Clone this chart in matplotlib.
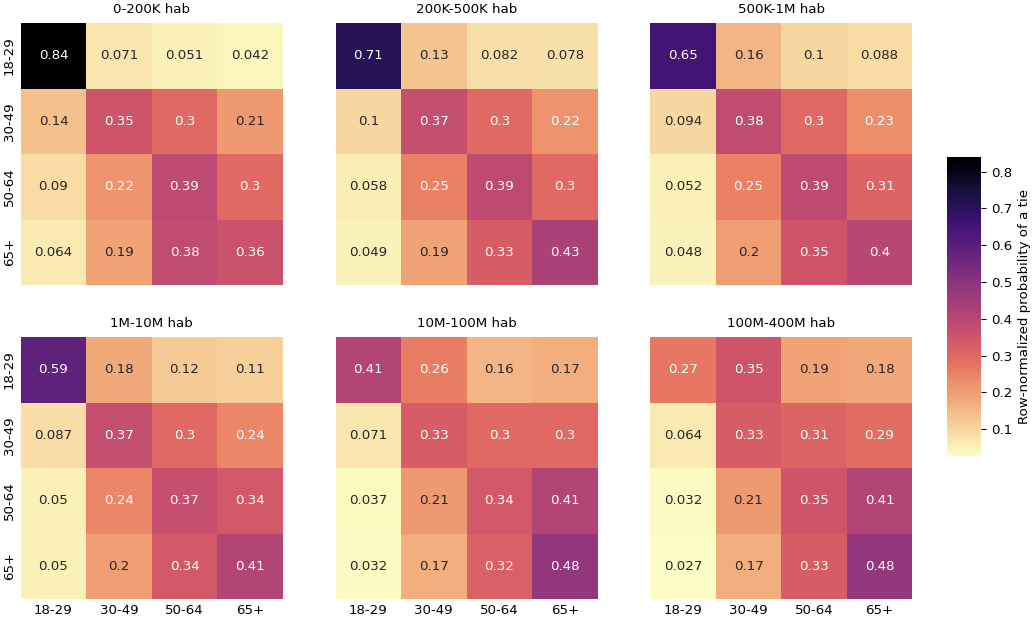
import numpy as np
import matplotlib
matplotlib.use("Agg")
import matplotlib.pyplot as plt
from matplotlib.colors import ListedColormap
import seaborn as sns

ages = ["18-29", "30-49", "50-64", "65+"]
titles = ["0-200K hab", "200K-500K hab", "500K-1M hab",
          "1M-10M hab", "10M-100M hab", "100M-400M hab"]

m_0_200k = [[0.84, 0.071, 0.051, 0.042],
            [0.14, 0.35, 0.3, 0.21],
            [0.09, 0.22, 0.39, 0.3],
            [0.064, 0.19, 0.38, 0.36]]
m_200k_500k = [[0.71, 0.13, 0.082, 0.078],
               [0.1, 0.37, 0.3, 0.22],
               [0.058, 0.25, 0.39, 0.3],
               [0.049, 0.19, 0.33, 0.43]]
m_500k_1m = [[0.65, 0.16, 0.1, 0.088],
             [0.094, 0.38, 0.3, 0.23],
             [0.052, 0.25, 0.39, 0.31],
             [0.048, 0.2, 0.35, 0.4]]
m_1m_10m = [[0.59, 0.18, 0.12, 0.11],
            [0.087, 0.37, 0.3, 0.24],
            [0.05, 0.24, 0.37, 0.34],
            [0.05, 0.2, 0.34, 0.41]]
m_10m_100m = [[0.41, 0.26, 0.16, 0.17],
              [0.071, 0.33, 0.3, 0.3],
              [0.037, 0.21, 0.34, 0.41],
              [0.032, 0.17, 0.32, 0.48]]
m_100m_400m = [[0.27, 0.35, 0.19, 0.18],
               [0.064, 0.33, 0.31, 0.29],
               [0.032, 0.21, 0.35, 0.41],
               [0.027, 0.17, 0.33, 0.48]]

mats = [m_0_200k, m_200k_500k, m_500k_1m, m_1m_10m, m_10m_100m, m_100m_400m]
vmin = min(np.min(m) for m in mats)
vmax = max(np.max(m) for m in mats)

# magma_r, slightly muted (sRGB -> P3 style) like the reference rendering
base = plt.get_cmap("magma_r")(np.linspace(0, 1, 256))[:, :3]
lin = np.where(base <= 0.04045, base / 12.92, ((base + 0.055) / 1.055) ** 2.4)
M = np.array([[0.8225, 0.1774, 0.0], [0.0332, 0.9669, 0.0], [0.0171, 0.0724, 0.9108]])
lin = np.clip(lin @ M.T, 0, 1)
enc = np.where(lin <= 0.0031308, lin * 12.92, 1.055 * lin ** (1 / 2.4) - 0.055)
cmap = ListedColormap(enc)

FS = 9.6
fig = plt.figure(figsize=(10.34, 6.18), dpi=100)
W, H = 1034, 618
lefts = [20.7, 335.6, 650.3]
tops = [23, 337]
size = 262

for i, (m, t) in enumerate(zip(mats, titles)):
    r, c = divmod(i, 3)
    ax = fig.add_axes([lefts[c] / W, 1 - (tops[r] + size) / H, size / W, size / H])
    sns.heatmap(np.array(m), ax=ax, cmap=cmap, vmin=vmin, vmax=vmax,
                annot=True, fmt=".2g", cbar=False, annot_kws={"fontsize": FS},
                xticklabels=ages if r == 1 else False,
                yticklabels=ages if c == 0 else False)
    ax.set_title(t, fontsize=FS, pad=7)
    ax.tick_params(labelsize=FS, length=0)

cax = fig.add_axes([946.5 / W, 1 - 456 / H, 34.5 / W, 299 / H])
sm = plt.cm.ScalarMappable(cmap=cmap, norm=plt.Normalize(vmin, vmax))
cb = fig.colorbar(sm, cax=cax)
cb.outline.set_visible(False)
cb.ax.tick_params(labelsize=FS)
cb.set_label("Row-normalized probability of a tie", fontsize=FS)

fig.savefig("out.png", dpi=100)
